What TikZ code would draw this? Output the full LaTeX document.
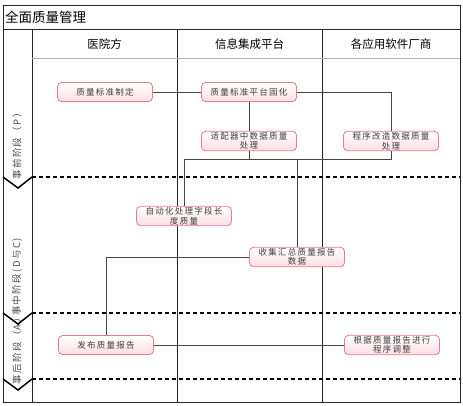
\documentclass[tikz,border=0pt]{standalone}
\usepackage{fontspec}
\newfontfamily\cjk{Noto Sans CJK SC}
\newfontfamily\cjkbox[LetterSpace=15]{Noto Sans CJK SC}
\usepackage{xcolor}
\definecolor{boxline}{RGB}{232,122,142}
\definecolor{boxfill}{RGB}{252,222,228}
\definecolor{wire}{RGB}{70,70,70}

\begin{document}
\begin{tikzpicture}[x=1pt,y=-1pt,
  qbox/.style={rectangle,draw=boxline,thick,rounded corners=4pt,top color=white,bottom color=boxfill,
               align=center,minimum width=95pt,minimum height=19pt,inner sep=1pt,text=black!75,
               font=\cjkbox\fontsize{8.5}{9.5}\selectfont},
  lanehead/.style={font=\cjk\fontsize{11.5}{12}\selectfont,inner sep=1pt},
  phase/.style={rotate=90,font=\cjkbox\fontsize{9.5}{10}\selectfont,text=black!70,inner sep=1pt},
  frame/.style={draw=black!85,line width=0.8pt},
  phaseline/.style={draw=black,line width=1.3pt,dash pattern=on 4pt off 3pt},
  chevron/.style={draw=black,line width=1.5pt},
  wireline/.style={draw=wire,line width=0.8pt}
]
\useasboundingbox (0,0) rectangle (463,405);

% pool and lanes
\draw[frame] (3,5) rectangle (460,402);
\draw[frame] (3,29) -- (460,29);
\draw[frame] (32,29) -- (32,402);
\draw[frame] (177,29) -- (177,402);
\draw[frame] (322,29) -- (322,402);
\draw[black!30,line width=0.6pt] (32,58) -- (460,58);
\foreach \y in {177,313,379} {
  \draw[phaseline] (32,\y) -- (460,\y);
  \draw[chevron] (3,\y) -- (18,{\y+11}) -- (32,\y);
}

\node[anchor=west,inner sep=1pt,font=\cjk\fontsize{13.5}{14}\selectfont] (title) at (4,17) {全面质量管理};
\node[lanehead] (hosp) at (104.5,44) {医院方};
\node[lanehead] (plat) at (249.5,44) {信息集成平台};
\node[lanehead] (vend) at (391,44) {各应用软件厂商};

\node[phase] (pre)  at (17,144) {事前阶段（P）};
\node[phase] (mid)  at (17,277) {事中阶段(D与C)};
\node[phase] (post) at (17,349) {事后阶段（A）};

% steps
\node[qbox] (q1) at (105,92)  {质量标准制定};
\node[qbox] (q2) at (249,92)  {质量标准平台固化};
\node[qbox] (q3) at (249,141) {适配器中数据质量\\处理};
\node[qbox] (q4) at (391,141) {程序改造数据质量\\处理};
\node[qbox] (q5) at (184,216) {自动化处理字段长\\度质量};
\node[qbox] (q6) at (297,257) {收集汇总质量报告\\数据};
\node[qbox] (q7) at (106,345) {发布质量报告};
\node[qbox] (q8) at (392,345) {根据质量报告进行\\程序调整};

\coordinate (bus) at (0,159);
\draw[wireline] (q1) -- (q2);
\draw[wireline] (q2.east) -| (q4.north);
\draw[wireline] (q2) -- (q3);
\draw[wireline] (q3.south) -- (q3.south |- bus);
\draw[wireline] (q4.south) |- (q5.north |- bus) -- (q5.north);
\draw[wireline] (q6.north) -- (q6.north |- bus);
\draw[wireline] (q6.west) -| (q7.north);
\draw[wireline] (q7) -- (q8);
\end{tikzpicture}
\end{document}
